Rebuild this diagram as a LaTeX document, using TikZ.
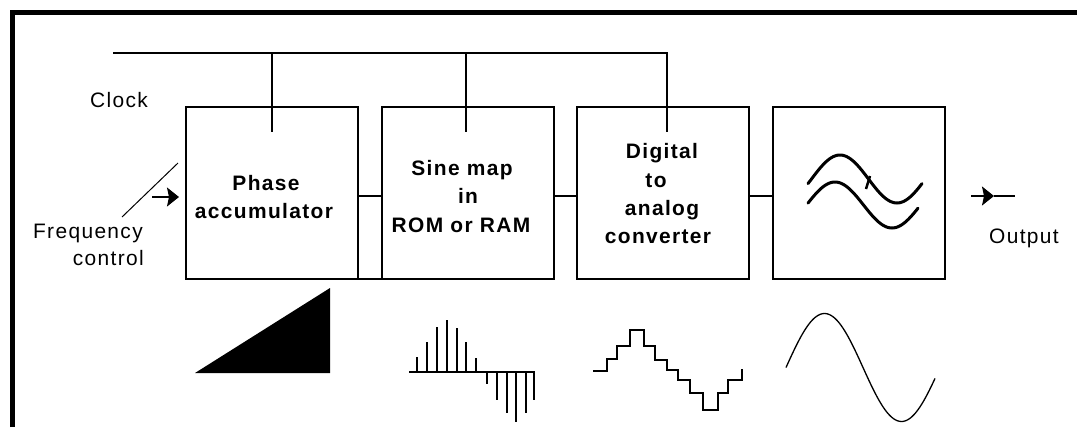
\documentclass[tikz,border=0pt]{standalone}
\usepackage{fontspec}
\newfontfamily\lab[LetterSpace=6.5]{Liberation Sans}
\usetikzlibrary{arrows.meta,calc}
\begin{document}
\begin{tikzpicture}[x=1bp,y=-1bp,
  ln/.style={line width=1.2bp},
  blk/.style={draw,line width=1.2bp,minimum width=172bp,minimum height=172bp,inner sep=0pt,outer sep=0pt,anchor=north west},
  btxt/.style={font=\lab\fontsize{21}{25}\selectfont\bfseries,inner sep=0pt,anchor=base},
  rtxt/.style={font=\lab\fontsize{21}{25}\selectfont,inner sep=0pt},
  tip/.style={-{Stealth[length=12bp,width=19bp,inset=2bp]}},
  wave/.style={line width=3bp,line cap=round},
]
\useasboundingbox (0,0) rectangle (1077,427);
% frame
\draw[line width=5bp] (12,427) -- (12,12) -- (1077,12);
% blocks
\node[blk] (b1) at (186,107) {};
\node[blk] (b2) at (382,107) {};
\node[blk] (b3) at (577,107) {};
\node[blk] (b4) at (773,107) {};
% texts
\node[btxt] (t1a) at (266,190) {Phase};
\node[btxt] (t1b) at (264,218) {accumulator};
\node[btxt] (t2a) at (462,175) {Sine map};
\node[btxt] (t2b) at (468,203) {in};
\node[btxt] (t2c) at (461,232) {ROM or RAM};
\node[btxt] (t3a) at (662,158) {Digital};
\node[btxt] (t3b) at (656,187) {to};
\node[btxt] (t3c) at (662,215) {analog};
\node[btxt] (t3d) at (658,243) {converter};
\node[rtxt,anchor=base west] (clk) at (90,107) {Clock};
\node[rtxt,anchor=base east] (fq1) at (143,238) {Frequency};
\node[rtxt,anchor=base east] (fq2) at (144,265) {control};
\node[rtxt,anchor=base west] (out) at (989,243) {Output};
% clock bus
\coordinate (ck0) at (113,53);
\coordinate (ck1) at (272,53);
\coordinate (ck2) at (466,53);
\coordinate (ck3) at (667,53);
\coordinate (d1) at (272,132);
\coordinate (d2) at (466,132);
\coordinate (d3) at (667,132);
\draw[ln] (ck0) -- (ck3) -- (d3);
\draw[ln] (ck1) -- (d1);
\draw[ln] (ck2) -- (d2);
% signal path
\coordinate (sig) at (0,196);
\draw[ln] (b1.east |- sig) -- (b2.west |- sig);
\draw[ln] (b2.east |- sig) -- (b3.west |- sig);
\draw[ln] (b3.east |- sig) -- (b4.west |- sig);
\draw[ln] (b1.south east) -- (b2.south west);
% frequency input
\coordinate (fi) at (152,197);
\coordinate (ft) at (179,197);
\draw[ln,tip] (fi) -- (ft);
\coordinate (fs1) at (178,163);
\coordinate (fs2) at (122,217);
\draw[line width=1bp] (fs1) -- (fs2);
% output
\coordinate (o1) at (971,196);
\coordinate (ot) at (994,196);
\coordinate (o2) at (1015,196);
\draw[ln,tip] (o1) -- (ot);
\draw[ln] (ot) -- (o2);
% filter icon
\draw[wave] plot[domain=808:922,samples=60,smooth] (\x,{179-24*cos((\x-840)/114*360)});
\draw[wave] plot[domain=808:918,samples=60,smooth] (\x,{205-23*cos((\x-835)/114*360)});
\draw[line width=2.5bp] (870,176) -- (866,189);
% ramp
\fill (195,373) -- (330,288) -- (330,373) -- cycle;
% samples
\draw[line width=2.5bp] (409,372) -- (535,372);
\foreach \xx/\yy/\w in {417/357/1.2,427/342/2.5,437/327/1.2,447/320/1.2,457/328/2.5,466/342/1.2,476/358/1.2,
  487/384/1.2,497/400/1.2,507/413/2.5,516/422/1.2,526/413/1.2,534/400/1.2}
  \draw[line width=\w bp] (\xx,372) -- (\xx,\yy);
% staircase
\draw[line width=1.6bp] (593,371) -- (607,371) -- (607,359) -- (617,359) -- (617,346) -- (630,346)
  -- (630,330) -- (644,330) -- (644,346) -- (655,346) -- (655,360) -- (667,360) -- (667,370)
  -- (678,370) -- (678,380) -- (690,380) -- (690,393) -- (703,393) -- (703,410) -- (718,410)
  -- (718,393) -- (728,393) -- (728,380) -- (742,380) -- (742,369);
% reconstructed sine
\draw[line width=1.3bp] plot[domain=786:935,samples=80,smooth] (\x,{367.5-54*sin((\x-786)/154*360)});
\end{tikzpicture}
\end{document}
